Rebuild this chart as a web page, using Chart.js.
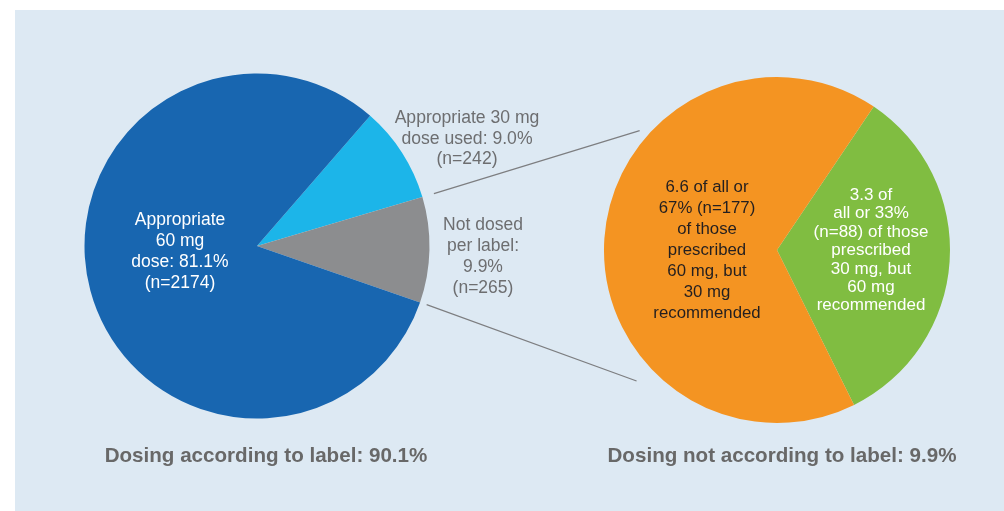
<!DOCTYPE html>
<html>
<head>
<meta charset="utf-8">
<script src="https://cdn.jsdelivr.net/npm/chart.js@4"></script>
<style>
    body { margin: 0; width: 1004px; height: 511px; background: #fff; position: relative; overflow: hidden;
           font-family: "Liberation Sans", Arial, sans-serif; }
    .panel { position: absolute; left: 15px; top: 10px; right: 0; bottom: 0; background: #dde9f3; }
    .pie { position: absolute; width: 360px; height: 360px; }
    .lbl { position: absolute; transform: translateX(-50%); text-align: center; white-space: nowrap; }
    .title { position: absolute; transform: translateX(-50%); font-weight: bold; font-size: 20.6px; color: #686868; white-space: nowrap; }
    #links { position: absolute; left: 0; top: 0; pointer-events: none; }
</style>
</head>
<body>
<div class="panel"></div>
<canvas id="links" width="1004" height="511"></canvas>
<div class="pie" style="left:77px; top:66px;"><canvas id="labelPie"></canvas></div>
<div class="pie" style="left:597px; top:70px;"><canvas id="offLabelPie"></canvas></div>

<div class="lbl" id="lblBlue" style="left:180px; top:209px; font-size:17.5px; line-height:21px; color:#fff;"></div>
<div class="lbl" id="lblCyan" style="left:467px; top:107px; font-size:17.6px; line-height:20.5px; color:#6d6e70;"></div>
<div class="lbl" id="lblGray" style="left:483px; top:214px; font-size:17.5px; line-height:21px; color:#6d6e70;"></div>
<div class="lbl" id="lblOrange" style="left:707px; top:176px; font-size:16.8px; line-height:21px; color:#231f20;"></div>
<div class="lbl" id="lblGreen" style="left:871px; top:186px; font-size:17px; line-height:18.4px; color:#fff;"></div>

<div class="title" id="titleLeft" style="left:266px; top:443px;"></div>
<div class="title" id="titleRight" style="left:782px; top:443px;"></div>

<script>
// Left pie: all patients (n), order starts at the cyan slice
const labelCategories = ['Appropriate 30 mg dose', 'Not dosed per label', 'Appropriate 60 mg dose'];
const labelCounts = [242, 265, 2174];
const labelColors = ['#1cb5e9', '#8c8d8f', '#1866b0'];

// Right pie: breakdown of the 9.9% not dosed per label
const offCategories = ['Prescribed 30 mg, 60 mg recommended', 'Prescribed 60 mg, 30 mg recommended'];
const offCounts = [88, 177];
const offColors = ['#80bd41', '#f49422'];

// Label text
const blueText = ['Appropriate', '60 mg', 'dose: 81.1%', '(n=2174)'];
const cyanText = ['Appropriate 30 mg', 'dose used: 9.0%', '(n=242)'];
const grayText = ['Not dosed', 'per label:', '9.9%', '(n=265)'];
const orangeText = ['6.6 of all or', '67% (n=177)', 'of those', 'prescribed', '60 mg, but', '30 mg', 'recommended'];
const greenText = ['3.3 of', 'all or 33%', '(n=88) of those', 'prescribed', '30 mg, but', '60 mg', 'recommended'];
const titles = ['Dosing according to label: 90.1%', 'Dosing not according to label: 9.9%'];

function setLines(id, lines) {
    document.getElementById(id).innerHTML = lines.join('<br>');
}

setLines('lblBlue', blueText);
setLines('lblCyan', cyanText);
setLines('lblGray', grayText);
setLines('lblOrange', orangeText);
setLines('lblGreen', greenText);
document.getElementById('titleLeft').textContent = titles[0];
document.getElementById('titleRight').textContent = titles[1];

function createPie(id, labels, values, colors, rotation, radius) {
    return new Chart(document.getElementById(id), {
        type: 'pie',
        data: {
            labels: labels,
            datasets: [{
                data: values,
                backgroundColor: colors,
                borderWidth: 0
            }]
        },
        options: {
            responsive: true,
            maintainAspectRatio: false,
            animation: false,
            rotation: rotation,
            radius: radius,
            layout: { padding: 0 },
            plugins: {
                legend: { display: false },
                tooltip: { enabled: false }
            }
        }
    });
}

const leftChart = createPie('labelPie', labelCategories, labelCounts, labelColors, 41, 172.5);
const rightChart = createPie('offLabelPie', offCategories, offCounts, offColors, 34, 173);

// Connector lines from the gray slice to the breakdown pie
function drawLinks() {
    const ctx = document.getElementById('links').getContext('2d');
    const gray = leftChart.getDatasetMeta(0).data[1];
    const big = rightChart.getDatasetMeta(0).data[0];
    const lRect = leftChart.canvas.getBoundingClientRect();
    const rRect = rightChart.canvas.getBoundingClientRect();
    const lx = lRect.left + gray.x, ly = lRect.top + gray.y;
    const rx = rRect.left + big.x, ry = rRect.top + big.y;
    const pt = (cx, cy, r, a) => [cx + r * Math.cos(a), cy + r * Math.sin(a)];
    const deg = d => (d - 90) * Math.PI / 180;

    const a1 = pt(lx, ly, gray.outerRadius + 12, gray.startAngle);
    const b1 = pt(rx, ry, big.outerRadius + 9, deg(311));
    const a2 = pt(lx, ly, gray.outerRadius + 7, gray.endAngle);
    const b2 = pt(rx, ry, big.outerRadius + 19, deg(227));

    ctx.strokeStyle = '#7d7e80';
    ctx.lineWidth = 1.2;
    ctx.beginPath();
    ctx.moveTo(a1[0], a1[1]);
    ctx.lineTo(b1[0], b1[1]);
    ctx.moveTo(a2[0], a2[1]);
    ctx.lineTo(b2[0], b2[1]);
    ctx.stroke();
}

drawLinks();
</script>
</body>
</html>
